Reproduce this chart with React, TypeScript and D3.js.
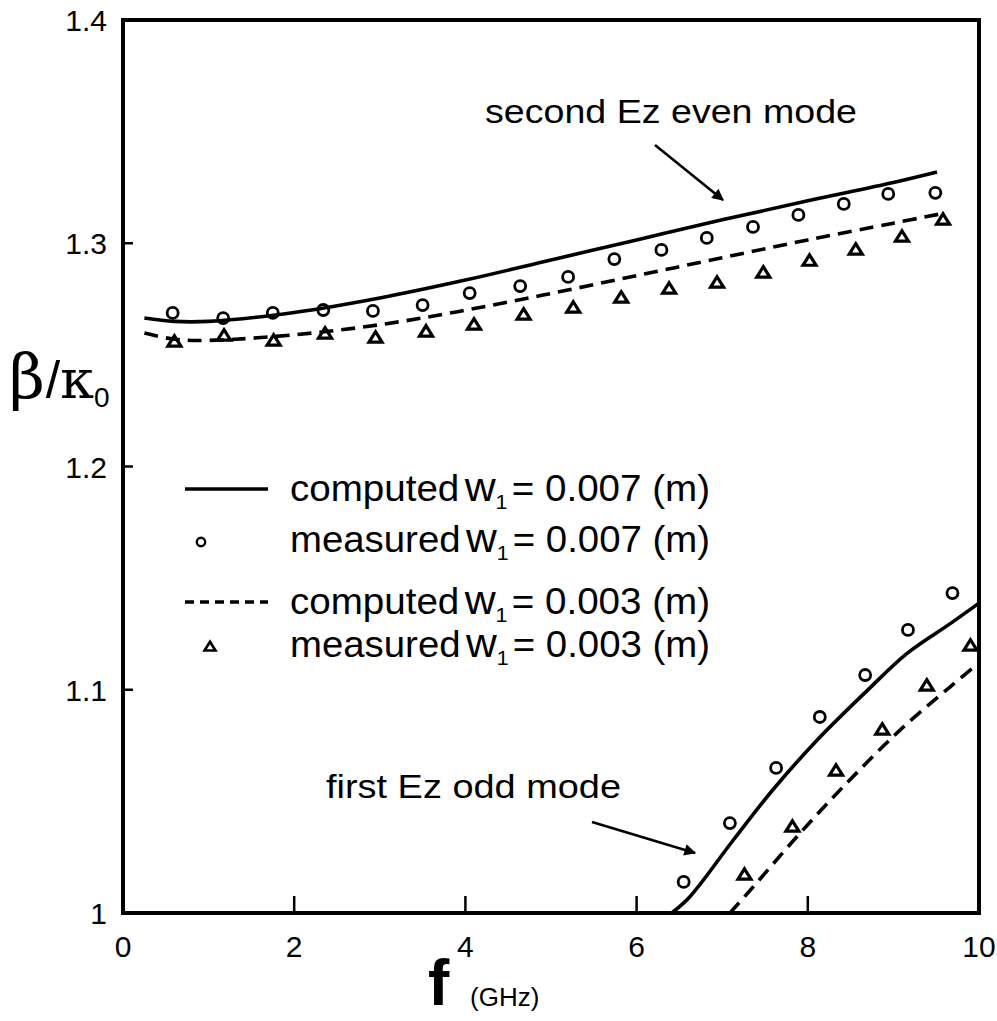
import React from "react";
import * as d3 from "d3";

const W = 997;
const H = 1021;

const xTicks = [0, 2, 4, 6, 8, 10];
const yTicks = [1, 1.1, 1.2, 1.3, 1.4];
const yTickLabels = ["1", "1.1", "1.2", "1.3", "1.4"];

// second Ez even mode, computed w1 = 0.007
const evenComp7F = [0.25, 0.6, 1, 2, 3, 4, 5, 6, 7, 8, 9, 9.51];
const evenComp7B = [1.2665, 1.265, 1.265, 1.269, 1.2755, 1.2835, 1.2925, 1.3015, 1.3105, 1.319, 1.3272, 1.3319];
// computed w1 = 0.003
const evenComp3F = [0.25, 0.6, 1, 2, 3, 4, 5, 6, 7, 8, 9, 9.6];
const evenComp3B = [1.2598, 1.257, 1.2565, 1.259, 1.2635, 1.27, 1.2775, 1.2855, 1.2935, 1.3015, 1.309, 1.3135];
// measured w1 = 0.007
const evenMeas7F = [0.58, 1.17, 1.75, 2.34, 2.92, 3.5, 4.05, 4.64, 5.2, 5.74, 6.29, 6.82, 7.36, 7.89, 8.42, 8.94, 9.49];
const evenMeas7B = [1.2688, 1.2665, 1.2688, 1.2701, 1.2697, 1.2723, 1.2777, 1.2808, 1.2849, 1.2929, 1.297, 1.3024, 1.3073, 1.3127, 1.3176, 1.3221, 1.3226];
// measured w1 = 0.003
const evenMeas3F = [0.6, 1.18, 1.76, 2.36, 2.95, 3.54, 4.1, 4.68, 5.26, 5.82, 6.38, 6.94, 7.48, 8.02, 8.56, 9.1, 9.58];
const evenMeas3B = [1.2558, 1.2585, 1.2562, 1.2594, 1.2576, 1.2603, 1.2634, 1.2679, 1.271, 1.2755, 1.2795, 1.2822, 1.2867, 1.292, 1.297, 1.3028, 1.3104];

// first Ez odd mode
const oddComp7F = [6.41, 6.62, 7.13, 7.59, 8.11, 8.69, 9.16, 9.66, 10.0];
const oddComp7B = [1.0, 1.0072, 1.0327, 1.0551, 1.0775, 1.0995, 1.1163, 1.1295, 1.1388];
const oddComp3F = [7.09, 7.33, 7.91, 8.49, 9.08, 9.66, 10.0];
const oddComp3B = [1.0, 1.0103, 1.0358, 1.0596, 1.082, 1.1012, 1.112];
const oddMeas7F = [6.55, 7.09, 7.63, 8.14, 8.67, 9.17, 9.69];
const oddMeas7B = [1.0139, 1.0403, 1.065, 1.0878, 1.1066, 1.1268, 1.1433];
const oddMeas3F = [7.26, 7.82, 8.33, 8.87, 9.39, 9.9];
const oddMeas3B = [1.017, 1.0385, 1.0636, 1.082, 1.1017, 1.1196];

const legendValues = ["0.007", "0.007", "0.003", "0.003"];
const legendKinds = ["computed", "measured", "computed", "measured"];

const FONT = "'Liberation Sans', Arial, Helvetica, sans-serif";

export default function App() {
  const x = d3.scaleLinear().domain([0, 10]).range([123, 979]);
  const y = d3.scaleLinear().domain([1, 1.4]).range([913, 20]);

  const line = d3
    .line<[number, number]>()
    .x((d) => x(d[0]))
    .y((d) => y(d[1]))
    .curve(d3.curveCatmullRom.alpha(0.5));

  const zip = (a: number[], b: number[]) => a.map((v, i) => [v, b[i]] as [number, number]);

  const tri = (cx: number, cy: number, s: number) => {
    const h = s * 0.8;
    return `M${cx},${cy - h * 0.6}L${cx + s / 2},${cy + h * 0.4}L${cx - s / 2},${cy + h * 0.4}Z`;
  };

  const lineW = 3.6;
  const dash = "14 8";

  const legendRows = [489, 540, 602, 645];

  return (
    <svg
      width={W}
      height={H}
      style={{ position: "absolute", left: 0, top: 0, background: "#fff" }}
      fontFamily={FONT}
    >
      <rect x={0} y={0} width={W} height={H} fill="#fff" />
      <defs>
        <clipPath id="plot">
          <rect x={x(0)} y={y(1.4)} width={x(10) - x(0)} height={y(1) - y(1.4)} />
        </clipPath>
        <marker id="ah" viewBox="0 0 10 10" refX="9" refY="5" markerWidth="7" markerHeight="4.5" markerUnits="strokeWidth" orient="auto">
          <path d="M0,0L10,5L0,10Z" fill="#000" />
        </marker>
      </defs>

      {/* curves */}
      <g clipPath="url(#plot)" fill="none" stroke="#000" strokeWidth={lineW}>
        <path d={line(zip(evenComp7F, evenComp7B)) || ""} />
        <path d={line(zip(evenComp3F, evenComp3B)) || ""} strokeDasharray={dash} />
        <path d={line(zip(oddComp7F, oddComp7B)) || ""} />
        <path d={line(zip(oddComp3F, oddComp3B)) || ""} strokeDasharray={dash} />
      </g>

      {/* markers */}
      <g fill="none" stroke="#000" strokeWidth={2.8}>
        {zip(evenMeas7F, evenMeas7B)
          .concat(zip(oddMeas7F, oddMeas7B))
          .map((d, i) => (
            <circle key={"c" + i} cx={x(d[0])} cy={y(d[1])} r={5.5} />
          ))}
        {zip(evenMeas3F, evenMeas3B)
          .concat(zip(oddMeas3F, oddMeas3B))
          .map((d, i) => (
            <path key={"t" + i} d={tri(x(d[0]), y(d[1]), 13)} strokeLinejoin="miter" strokeWidth={3.2} />
          ))}
      </g>

      {/* frame */}
      <rect
        x={x(0)}
        y={y(1.4)}
        width={x(10) - x(0)}
        height={y(1) - y(1.4)}
        fill="none"
        stroke="#000"
        strokeWidth={4}
      />
      {/* ticks */}
      <g stroke="#000" strokeWidth={2.5}>
        {xTicks.slice(1, -1).map((t) => (
          <line key={"xt" + t} x1={x(t)} x2={x(t)} y1={y(1)} y2={y(1) - 17} />
        ))}
        {yTicks.slice(1, -1).map((t) => (
          <line key={"yt" + t} x1={x(0)} x2={x(0) + 10} y1={y(t)} y2={y(t)} />
        ))}
      </g>
      {/* tick labels */}
      <g fontSize={30} fill="#000">
        {xTicks.map((t) => (
          <text key={"xl" + t} x={x(t)} y={957} textAnchor="middle">
            {t}
          </text>
        ))}
        {yTicks.map((t, i) => (
          <text key={"yl" + t} x={107} y={y(t) + 11} textAnchor="end">
            {yTickLabels[i]}
          </text>
        ))}
      </g>

      {/* axis titles */}
      <text x={428} y={1005} fontSize={64} fill="#000" fontWeight="bold">
        f
      </text>
      <text x={470} y={1006} fontSize={26} fill="#000">
        (GHz)
      </text>
      <text x={9} y={398} fontSize={62} fill="#000" fontFamily="'DejaVu Serif', 'Liberation Serif', serif">
        β
        <tspan fontFamily={FONT} fontSize={52} dx={1}>/</tspan>
        <tspan fontSize={54}>κ</tspan>
        <tspan fontFamily={FONT} fontSize={28} dy={9}>0</tspan>
      </text>

      {/* legend */}
      <g stroke="#000" fill="none">
        <line x1={185} x2={268} y1={legendRows[0]} y2={legendRows[0]} strokeWidth={3.6} />
        <circle cx={201} cy={legendRows[1] + 2} r={4.2} strokeWidth={2.4} />
        <line x1={185} x2={268} y1={legendRows[2]} y2={legendRows[2]} strokeWidth={3.6} strokeDasharray="9 6" />
        <path d={tri(210, legendRows[3] + 2, 11)} strokeWidth={2.6} />
      </g>
      <g fill="#000" fontSize={36}>
        {legendRows.map((ry, i) => (
          <text key={"lg" + i} x={290} y={ry + 12} textLength={420} lengthAdjust="spacingAndGlyphs">
            {legendKinds[i]}
            <tspan fontSize={40} dx={5}>w</tspan>
            <tspan fontSize={20} dy={8}>1</tspan>
            <tspan dy={-8} dx={4}>{"= " + legendValues[i] + " (m)"}</tspan>
          </text>
        ))}
      </g>

      {/* annotations */}
      <text x={485} y={123} fontSize={34} fill="#000" textLength={372} lengthAdjust="spacingAndGlyphs">
        second Ez even mode
      </text>
      <line x1={655} y1={145} x2={723} y2={200} stroke="#000" strokeWidth={2.6} markerEnd="url(#ah)" />
      <text x={326} y={798} fontSize={34} fill="#000" textLength={295} lengthAdjust="spacingAndGlyphs">
        first Ez odd mode
      </text>
      <line x1={592} y1={822} x2={695} y2={853} stroke="#000" strokeWidth={2.6} markerEnd="url(#ah)" />
    </svg>
  );
}
